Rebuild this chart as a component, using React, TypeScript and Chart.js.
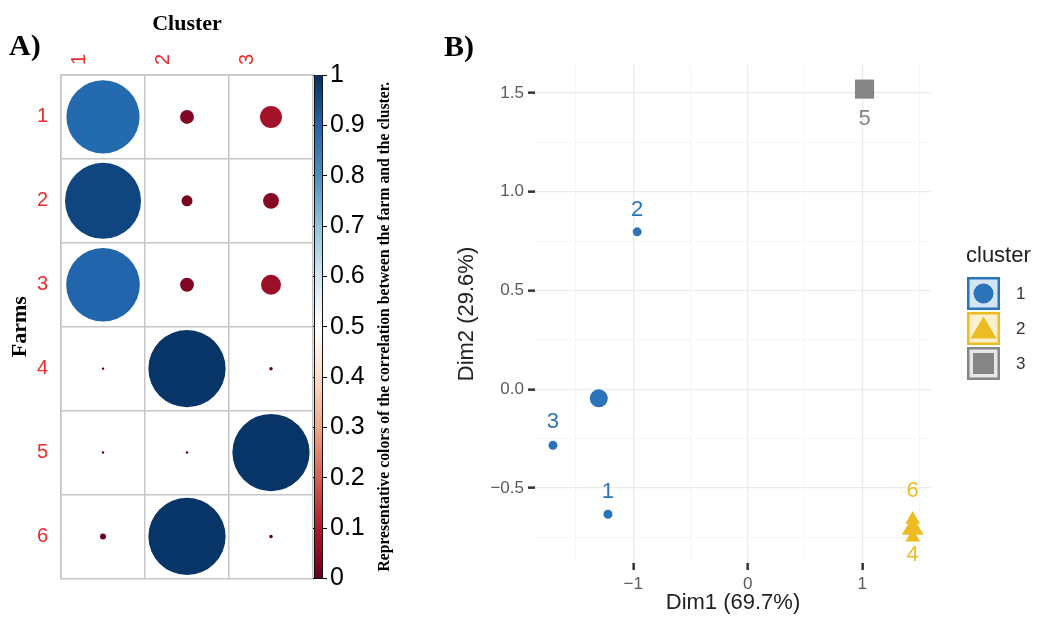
import React, { useEffect, useRef } from 'react';
import { Chart, registerables } from 'chart.js';

Chart.register(...registerables);

// ---------------- Panel A data ----------------
const clusterLabels = ['1', '2', '3'];
const farmLabels = ['1', '2', '3', '4', '5', '6'];
// correlation of each farm (rows 1..6) with each cluster
const corrCluster1 = [0.89, 0.96, 0.9, 0.001, 0.001, 0.006];
const corrCluster2 = [0.032, 0.02, 0.032, 0.99, 0.001, 0.99];
const corrCluster3 = [0.08, 0.042, 0.066, 0.002, 0.99, 0.002];
const colorbarTicks = [0, 0.1, 0.2, 0.3, 0.4, 0.5, 0.6, 0.7, 0.8, 0.9, 1];
const rdbuStops = ['#67001F', '#B2182B', '#D6604D', '#F4A582', '#FDDBC7', '#FFFFFF', '#D1E5F0', '#92C5DE', '#4393C3', '#2166AC', '#053061'];
const colorbarCaption = 'Representative colors of the correlation between the farm and the cluster.';

// ---------------- Panel B data ----------------
const pointLabels = ['1', '2', '3', '4', '5', '6'];
const dim1 = [-1.22, -0.965, -1.7, 1.44, 1.02, 1.44];
const dim2 = [-0.633, 0.797, -0.284, -0.75, 1.52, -0.66];
const pointCluster = [1, 1, 1, 2, 3, 2];
const labelDim2 = [-0.52, 0.91, -0.165, -0.84, 1.37, -0.515];
const centroidDim1 = [-1.3, 1.44, 1.02];
const centroidDim2 = [-0.046, -0.705, 1.52];
const legendClusters = ['1', '2', '3'];
const xMajorTicks = [-1, 0, 1];
const xMinorTicks = [-1.5, -0.5, 0.5, 1.5];
const yMajorTicks = [-0.5, 0, 0.5, 1, 1.5];
const yMinorTicks = [-0.75, -0.25, 0.25, 0.75, 1.25];
const xLimits = [-1.857, 1.6];
const yLimits = [-0.88, 1.642];

// ---------------- styles ----------------
const SANS = '"Liberation Sans", Arial, sans-serif';
const SERIF = '"Liberation Serif", "Times New Roman", serif';
const RED = '#EE2A2A';
const GRID_A = '#C6C6C6';
const clusterColors = ['#2B74BA', '#EDBB22', '#858585'];
const clusterFills = ['#D3E4F3', '#FBF0CC', '#E6E6E6'];
const clusterShapes = ['circle', 'triangle', 'rect'];

function hexToRgb(h: string) {
  const n = parseInt(h.slice(1), 16);
  return [(n >> 16) & 255, (n >> 8) & 255, n & 255];
}
function rdbu(v: number) {
  const t = Math.max(0, Math.min(1, v)) * (rdbuStops.length - 1);
  const i = Math.min(rdbuStops.length - 2, Math.floor(t));
  const f = t - i;
  const a = hexToRgb(rdbuStops[i]);
  const b = hexToRgb(rdbuStops[i + 1]);
  return `rgb(${a.map((c, k) => Math.round(c + (b[k] - c) * f)).join(',')})`;
}

const corrByCluster = [corrCluster1, corrCluster2, corrCluster3];
const bubbleData = farmLabels.flatMap((f, r) =>
  clusterLabels.map((c, k) => ({ x: c, y: f, v: corrByCluster[k][r] }))
);

const panelAPlugin = {
  id: 'panelA',
  afterDraw(chart: any) {
    const { ctx, chartArea } = chart;
    const { top, bottom, right } = chartArea;
    ctx.save();
    // panel tag
    ctx.fillStyle = '#000';
    ctx.font = `bold 30px ${SERIF}`;
    ctx.textAlign = 'left';
    ctx.textBaseline = 'alphabetic';
    ctx.fillText('A)', 9, 55);
    // colour bar
    const x0 = right + 1;
    const w = 9;
    const g = ctx.createLinearGradient(0, bottom, 0, top);
    rdbuStops.forEach((c, i) => g.addColorStop(i / (rdbuStops.length - 1), c));
    ctx.fillStyle = g;
    ctx.fillRect(x0, top, w, bottom - top);
    ctx.strokeStyle = '#111';
    ctx.lineWidth = 1;
    ctx.beginPath();
    ctx.moveTo(x0 + 0.5, top);
    ctx.lineTo(x0 + 0.5, bottom);
    ctx.moveTo(x0 + w - 0.5, top);
    ctx.lineTo(x0 + w - 0.5, bottom);
    ctx.stroke();
    // caption
    ctx.translate(right + 72, (top + bottom) / 2);
    ctx.rotate(-Math.PI / 2);
    ctx.font = `bold 15.7px ${SERIF}`;
    ctx.fillStyle = '#000';
    ctx.textAlign = 'center';
    ctx.textBaseline = 'middle';
    ctx.fillText(colorbarCaption, 0, 0);
    ctx.restore();
  },
};

const labelPluginB = {
  id: 'panelB',
  afterDatasetsDraw(chart: any) {
    const { ctx, scales } = chart;
    const xs = scales.x;
    const ys = scales.y;
    ctx.save();
    ctx.font = `22px ${SANS}`;
    ctx.textAlign = 'center';
    ctx.textBaseline = 'middle';
    pointLabels.forEach((t, i) => {
      ctx.fillStyle = clusterColors[pointCluster[i] - 1];
      ctx.fillText(t, xs.getPixelForValue(dim1[i]), ys.getPixelForValue(labelDim2[i]));
    });
    ctx.restore();
  },
  afterDraw(chart: any) {
    const { ctx, chartArea } = chart;
    ctx.save();
    ctx.fillStyle = '#000';
    ctx.font = `bold 30px ${SERIF}`;
    ctx.textAlign = 'left';
    ctx.textBaseline = 'alphabetic';
    ctx.fillText('B)', 14, 56);
    // legend
    const lx = chartArea.right + 36;
    ctx.fillStyle = '#222';
    ctx.font = `22px ${SANS}`;
    ctx.fillText('cluster', chartArea.right + 35, 262);
    const size = 33;
    legendClusters.forEach((lab, i) => {
      const ty = 277 + i * 35;
      ctx.fillStyle = clusterFills[i];
      ctx.fillRect(lx, ty, size, size);
      ctx.strokeStyle = clusterColors[i];
      ctx.lineWidth = 2.5;
      ctx.strokeRect(lx + 1.25, ty + 1.25, size - 2.5, size - 2.5);
      const cx = lx + size / 2;
      const cy = ty + size / 2;
      ctx.fillStyle = clusterColors[i];
      ctx.beginPath();
      if (clusterShapes[i] === 'circle') {
        ctx.arc(cx, cy, 10, 0, Math.PI * 2);
      } else if (clusterShapes[i] === 'triangle') {
        ctx.moveTo(cx, cy - 12);
        ctx.lineTo(cx + 13, cy + 10);
        ctx.lineTo(cx - 13, cy + 10);
        ctx.closePath();
      } else {
        ctx.rect(cx - 10.5, cy - 10.5, 21, 21);
      }
      ctx.fill();
      ctx.fillStyle = '#333';
      ctx.font = `17px ${SANS}`;
      ctx.textBaseline = 'middle';
      ctx.fillText(lab, lx + size + 16, cy + 1);
      ctx.textBaseline = 'alphabetic';
    });
    ctx.restore();
  },
};

const fmtMinus = (s: string) => s.replace('-', '\u2212');

export default function App() {
  const refA = useRef<HTMLCanvasElement>(null);
  const refB = useRef<HTMLCanvasElement>(null);

  useEffect(() => {
    const chartA = new Chart(refA.current as HTMLCanvasElement, {
      type: 'bubble',
      data: {
        datasets: [
          {
            data: bubbleData as any,
            backgroundColor: (c: any) => rdbu(c.raw ? c.raw.v : 0),
            borderWidth: 0,
            radius: (c: any) => {
              const ca = c.chart.chartArea;
              const cell = ca ? (ca.right - ca.left) / clusterLabels.length : 84;
              return 0.462 * cell * Math.sqrt(c.raw ? c.raw.v : 0);
            },
          } as any,
        ],
      },
      options: {
        animation: false,
        responsive: false,
        events: [],
        layout: { padding: { top: 0, left: 0, right: 0, bottom: 38 } },
        plugins: { legend: { display: false }, tooltip: { enabled: false } },
        scales: {
          x: {
            type: 'category',
            labels: clusterLabels,
            position: 'top',
            offset: true,
            grid: { offset: true, color: GRID_A, lineWidth: 1.5, drawTicks: false },
            border: { display: true, color: GRID_A, width: 1.5 },
            ticks: { color: RED, font: { family: SANS, size: 20 }, minRotation: 90, maxRotation: 90, padding: 10 },
            title: {
              display: true,
              text: 'Cluster',
              color: '#000',
              font: { family: SERIF, size: 22, weight: 'bold' },
              padding: { top: 11, bottom: 0 },
            },
            afterFit: (s: any) => {
              s.height = 75;
            },
          },
          y: {
            type: 'category',
            labels: farmLabels,
            position: 'left',
            offset: true,
            grid: { offset: true, color: GRID_A, lineWidth: 1.5, drawTicks: false },
            border: { display: true, color: GRID_A, width: 1.5 },
            ticks: { color: RED, font: { family: SANS, size: 20 }, padding: 13 },
            title: {
              display: true,
              text: 'Farms',
              color: '#000',
              font: { family: SERIF, size: 22, weight: 'bold' },
              padding: { top: 7, bottom: 0 },
            },
            afterFit: (s: any) => {
              s.width = 61;
            },
          },
          cb: {
            type: 'linear',
            position: 'right',
            min: 0,
            max: 1,
            afterBuildTicks: (s: any) => {
              s.ticks = colorbarTicks.map((v) => ({ value: v }));
            },
            grid: { drawOnChartArea: false, tickLength: 14, tickColor: '#000', tickWidth: 1 },
            border: { display: false },
            ticks: {
              color: '#000',
              font: { family: SANS, size: 25 },
              padding: 3,
              autoSkip: false,
              callback: (v: any) => String(Math.round(Number(v) * 10) / 10),
            },
            afterFit: (s: any) => {
              s.width = 117;
            },
          },
        },
      } as any,
      plugins: [panelAPlugin],
    });

    const clusterPoints = [1, 2, 3].map((k) =>
      dim1.map((x, i) => ({ x, y: dim2[i], c: pointCluster[i] })).filter((p) => p.c === k)
    );
    const centroids = centroidDim1.map((x, i) => ({ x, y: centroidDim2[i] }));

    const isMajor = (arr: number[], v: number) => arr.some((m) => Math.abs(m - v) < 1e-9);

    const chartB = new Chart(refB.current as HTMLCanvasElement, {
      type: 'scatter',
      data: {
        datasets: [
          { data: clusterPoints[0], pointStyle: 'circle', radius: 4.5, backgroundColor: clusterColors[0], borderWidth: 0 },
          { data: clusterPoints[1], pointStyle: 'triangle', radius: 8.5, backgroundColor: clusterColors[1], borderWidth: 0 },
          { data: clusterPoints[2], pointStyle: 'rect', radius: 6, backgroundColor: clusterColors[2], borderWidth: 0 },
          {
            data: centroids,
            pointStyle: clusterShapes as any,
            radius: [9, 12.5, 13.5],
            backgroundColor: clusterColors,
            borderWidth: 0,
          },
        ] as any,
      },
      options: {
        animation: false,
        responsive: false,
        events: [],
        layout: { padding: { top: 65, left: 0, right: 106, bottom: 0 } },
        plugins: { legend: { display: false }, tooltip: { enabled: false } },
        scales: {
          x: {
            type: 'linear',
            min: xLimits[0],
            max: xLimits[1],
            afterBuildTicks: (s: any) => {
              s.ticks = [...xMinorTicks, ...xMajorTicks].sort((a, b) => a - b).map((v) => ({ value: v }));
            },
            grid: {
              color: (c: any) => (isMajor(xMajorTicks, c.tick?.value) ? '#EBEBEB' : '#F4F4F4'),
              lineWidth: (c: any) => (isMajor(xMajorTicks, c.tick?.value) ? 1.3 : 0.8),
              tickColor: (c: any) => (isMajor(xMajorTicks, c.tick?.value) ? '#333' : 'rgba(0,0,0,0)'),
              tickWidth: 2.5,
              tickLength: 7,
            },
            border: { display: false },
            ticks: {
              autoSkip: false,
              maxRotation: 0,
              color: '#5A5A5A',
              font: { family: SANS, size: 17 },
              padding: 4,
              callback: (v: any) => (isMajor(xMajorTicks, v) ? fmtMinus(String(v)) : ''),
            },
            title: {
              display: true,
              text: 'Dim1 (69.7%)',
              color: '#222',
              font: { family: SANS, size: 22 },
              padding: { top: 0, bottom: 1 },
            },
            afterFit: (s: any) => {
              s.height = 54;
            },
          },
          y: {
            type: 'linear',
            min: yLimits[0],
            max: yLimits[1],
            afterBuildTicks: (s: any) => {
              s.ticks = [...yMinorTicks, ...yMajorTicks].sort((a, b) => a - b).map((v) => ({ value: v }));
            },
            grid: {
              color: (c: any) => (isMajor(yMajorTicks, c.tick?.value) ? '#EBEBEB' : '#F4F4F4'),
              lineWidth: (c: any) => (isMajor(yMajorTicks, c.tick?.value) ? 1.3 : 0.8),
              tickColor: (c: any) => (isMajor(yMajorTicks, c.tick?.value) ? '#333' : 'rgba(0,0,0,0)'),
              tickWidth: 2.5,
              tickLength: 7,
            },
            border: { display: false },
            ticks: {
              autoSkip: false,
              color: '#5A5A5A',
              font: { family: SANS, size: 17 },
              padding: 4,
              callback: (v: any) => (isMajor(yMajorTicks, v) ? fmtMinus(Number(v).toFixed(1)) : ''),
            },
            title: {
              display: true,
              text: 'Dim2 (29.6%)',
              color: '#222',
              font: { family: SANS, size: 22 },
              padding: { top: 24, bottom: 0 },
            },
            afterFit: (s: any) => {
              s.width = 105;
            },
          },
        },
      } as any,
      plugins: [labelPluginB],
    });

    return () => {
      chartA.destroy();
      chartB.destroy();
    };
  }, []);

  return (
    <div style={{ position: 'fixed', left: 0, top: 0, width: 1037, height: 617, background: '#fff' }}>
      <canvas ref={refA} width={430} height={617} style={{ position: 'absolute', left: 0, top: 0, width: 430, height: 617 }} />
      <canvas ref={refB} width={607} height={617} style={{ position: 'absolute', left: 430, top: 0, width: 607, height: 617 }} />
    </div>
  );
}
